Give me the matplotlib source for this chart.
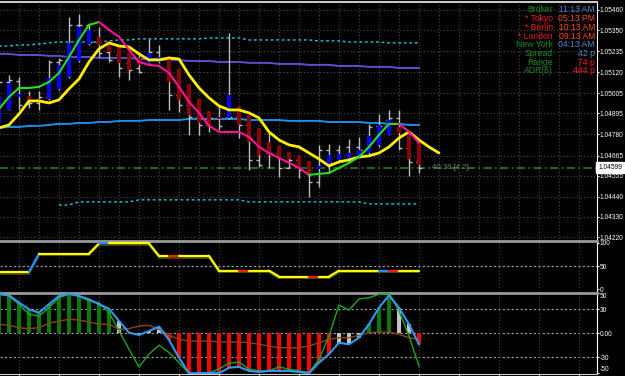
import matplotlib
matplotlib.use('Agg')
import matplotlib.pyplot as plt
import matplotlib.transforms as mtransforms
from matplotlib.collections import LineCollection
import numpy as np

# ---- price bars (oldest visible bar first) ----
bar_high = [1.05089, 1.05105, 1.05094, 1.05018, 1.05018, 1.05187, 1.05198, 1.05422, 1.05438, 1.05389,
            1.05367, 1.05285, 1.05258, 1.05225, 1.05214, 1.05302, 1.05269, 1.05198, 1.05138, 1.05056,
            1.04974, 1.04909, 1.04936, 1.05334, 1.04936, 1.04887, 1.04816, 1.04794, 1.04717, 1.04685,
            1.04668, 1.04635, 1.04723, 1.04728, 1.04723, 1.04756, 1.04767, 1.04838, 1.04892, 1.04914,
            1.04914, 1.04788, 1.04734]
bar_low = [1.04832, 1.04914, 1.04914, 1.04925, 1.04914, 1.04969, 1.05023, 1.05089, 1.05176, 1.05269,
           1.05203, 1.05176, 1.05094, 1.05078, 1.05116, 1.05171, 1.05171, 1.04914, 1.04903, 1.04778,
           1.04778, 1.04794, 1.04805, 1.04865, 1.04761, 1.04586, 1.04603, 1.04597, 1.04548, 1.04597,
           1.04543, 1.04439, 1.04494, 1.04570, 1.04630, 1.04630, 1.04657, 1.04668, 1.04712, 1.04778,
           1.04696, 1.04554, 1.04570]
bar_open = [1.04887, 1.05067, 1.05072, 1.04947, 1.04952, 1.04985, 1.05176, 1.05187, 1.05378, 1.05378,
            1.05285, 1.05231, 1.05214, 1.05171, 1.05143, 1.05198, 1.05231, 1.05198, 1.04996, 1.04941,
            1.04876, 1.04832, 1.04870, 1.04876, 1.04876, 1.04832, 1.04641, 1.04679, 1.04679, 1.04597,
            1.04641, 1.04570, 1.04521, 1.04696, 1.04696, 1.04712, 1.04712, 1.04707, 1.04827, 1.04859,
            1.04870, 1.04707, 1.04630]
bar_close = [1.05067, 1.05078, 1.04941, 1.04952, 1.04985, 1.05176, 1.05187, 1.05378, 1.05378, 1.05285,
             1.05225, 1.05187, 1.05143, 1.05132, 1.05121, 1.05231, 1.05198, 1.04996, 1.04941, 1.04876,
             1.04832, 1.04870, 1.04827, 1.04876, 1.04832, 1.04641, 1.04614, 1.04679, 1.04597, 1.04641,
             1.04586, 1.04521, 1.04696, 1.04625, 1.04641, 1.04646, 1.04696, 1.04821, 1.04827, 1.04870,
             1.04707, 1.04630, 1.04599]
# heiken ashi bodies
ha_open = [1.04843, 1.04914, 1.04985, 1.04990, 1.04974, 1.04974, 1.05029, 1.05094, 1.05181, 1.05274,
           1.05313, 1.05280, 1.05258, 1.05225, 1.05198, 1.05171, 1.05176, 1.05198, 1.05138, 1.05056,
           1.04974, 1.04909, 1.04876, 1.04870, 1.04936, 1.04887, 1.04816, 1.04739, 1.04717, 1.04685,
           1.04668, 1.04635, 1.04592, 1.04619, 1.04641, 1.04646, 1.04657, 1.04679, 1.04723, 1.04778,
           1.04821, 1.04788, 1.04734]
ha_close = [1.04990, 1.05061, 1.05001, 1.04969, 1.04963, 1.05089, 1.05160, 1.05280, 1.05367, 1.05351,
            1.05269, 1.05231, 1.05171, 1.05132, 1.05160, 1.05225, 1.05203, 1.05067, 1.04969, 1.04887,
            1.04843, 1.04821, 1.04865, 1.04996, 1.04832, 1.04739, 1.04668, 1.04668, 1.04646, 1.04646,
            1.04597, 1.04559, 1.04608, 1.04668, 1.04674, 1.04679, 1.04696, 1.04772, 1.04832, 1.04859,
            1.04788, 1.04646, 1.04614]

# ---- main window indicators ----
slow_ma = [1.04816, 1.04832, 1.04892, 1.04963, 1.04963, 1.04952, 1.04969, 1.05029, 1.05083, 1.05176,
           1.05247, 1.05280, 1.05263, 1.05258, 1.05220, 1.05187, 1.05187, 1.05198, 1.05192, 1.05105,
           1.05034, 1.04980, 1.04936, 1.04914, 1.04914, 1.04898, 1.04870, 1.04794, 1.04750, 1.04723,
           1.04712, 1.04679, 1.04646, 1.04608, 1.04630, 1.04641, 1.04657, 1.04663, 1.04679, 1.04712,
           1.04761, 1.04794, 1.04750, 1.04712, 1.04679]
fast_ma = [1.04919, 1.04985, 1.05034, 1.05034, 1.05040, 1.05067, 1.05116, 1.05203, 1.05296, 1.05378,
           1.05394, 1.05351, 1.05313, 1.05242, 1.05176, 1.05160, 1.05154, 1.05116, 1.05040, 1.04958,
           1.04898, 1.04827, 1.04794, 1.04794, 1.04794, 1.04767, 1.04712, 1.04679, 1.04652, 1.04625,
           1.04597, 1.04559, 1.04565, 1.04570, 1.04597, 1.04625, 1.04657, 1.04712, 1.04778, 1.04838,
           1.04838, 1.04794, 1.04734]
purple_ma = [1.05220, 1.05220, 1.05214, 1.05214, 1.05214, 1.05209, 1.05209, 1.05203, 1.05203, 1.05203,
             1.05198, 1.05198, 1.05198, 1.05198, 1.05192, 1.05192, 1.05192, 1.05187, 1.05187, 1.05181,
             1.05181, 1.05181, 1.05176, 1.05176, 1.05176, 1.05171, 1.05171, 1.05171, 1.05165, 1.05165,
             1.05165, 1.05160, 1.05160, 1.05160, 1.05154, 1.05154, 1.05154, 1.05149, 1.05149, 1.05149,
             1.05143, 1.05143, 1.05143]
blue_ma = [1.04816, 1.04821, 1.04821, 1.04827, 1.04827, 1.04832, 1.04838, 1.04838, 1.04843, 1.04843,
           1.04848, 1.04848, 1.04854, 1.04854, 1.04854, 1.04859, 1.04859, 1.04859, 1.04859, 1.04865,
           1.04865, 1.04865, 1.04865, 1.04865, 1.04865, 1.04859, 1.04859, 1.04859, 1.04859, 1.04854,
           1.04854, 1.04854, 1.04854, 1.04848, 1.04848, 1.04848, 1.04848, 1.04843, 1.04843, 1.04838,
           1.04838, 1.04832, 1.04832]
band_upper = [1.05263, 1.05263, 1.05269, 1.05269, 1.05274, 1.05280, 1.05285, 1.05285, 1.05285, 1.05285,
              1.05285, 1.05291, 1.05296, 1.05296, 1.05302, 1.05302, 1.05302, 1.05302, 1.05302, 1.05302,
              1.05302, 1.05307, 1.05307, 1.05307, 1.05307, 1.05296, 1.05296, 1.05296, 1.05296, 1.05296,
              1.05296, 1.05296, 1.05291, 1.05291, 1.05291, 1.05285, 1.05285, 1.05285, 1.05285, 1.05280,
              1.05280, 1.05280, 1.05280]
band_lower = [np.nan, np.nan, np.nan, np.nan, np.nan, np.nan, 1.04395, 1.04395, 1.04412, 1.04412,
              1.04412, 1.04412, 1.04412, 1.04412, 1.04423, 1.04423, 1.04423, 1.04423, 1.04423, 1.04423,
              1.04423, 1.04423, 1.04423, 1.04423, 1.04423, 1.04412, 1.04412, 1.04412, 1.04412, 1.04412,
              1.04412, 1.04412, 1.04412, 1.04412, 1.04412, 1.04412, 1.04412, 1.04401, 1.04401, 1.04401,
              1.04401, 1.04401, 1.04401]
bid = 1.04599
price_ticks = [1.05460, 1.05350, 1.05235, 1.05120, 1.05005, 1.04895, 1.04780, 1.04665,
               1.04555, 1.04440, 1.04330, 1.04220]

# ---- window 1: strength line, state per segment (u up, d down, f flat, r red flat) ----
strength = [37, 37, 37, 37, 77, 77, 77, 77, 77, 77,
            99, 99, 99, 99, 99, 99, 72, 72, 72, 72,
            72, 72, 40, 40, 40, 40, 40, 40, 27, 27,
            27, 27, 27, 27, 40, 40, 40, 40, 40, 40,
            40, 40, 40]
strength_state = 'fffuffffffuffffffdffffffdffffffdffffffurfff'

# ---- window 2: oscillator ----
osc_main = [48.8, 47.5, 38.3, 30.0, 25.8, 36.3, 46.6, 49.5, 46.6, 42.5,
            36.3, 30.8, 15.4, 0.8, -2.1, 2.9, 8.3, -8.4, -30.5, -50.0,
            -50.0, -49.6, -50.0, -43.0, -42.0, -47.0, -48.4, -47.0, -47.0, -47.0,
            -48.4, -50.0, -36.8, -26.0, -11.8, -13.8, -5.5, 11.3, 32.0, 47.5,
            32.0, 11.3, -13.8]
osc_state = 'ggggggggggggwwwwwrrrrrrrrrrrrrrrrrwwwgggwwr'
osc_fast = [50.0, 46.6, 36.3, 23.8, 21.6, 32.0, 44.5, 48.8, 46.6, 40.4,
            38.3, 25.8, 2.9, -20.0, -42.0, -26.0, -15.0, -24.0, -36.8, -50.0,
            -49.6, -49.6, -44.6, -37.5, -35.9, -45.0, -47.0, -47.0, -42.0, -45.0,
            -47.0, -49.0, -32.5, -3.4, 35.4, 29.0, 43.0, 44.5, 48.8, 50.0,
            28.0, -3.4, -41.0]
osc_signal = [11.3, 10.0, 7.0, 5.8, 7.0, 12.5, 15.4, 17.5, 16.6, 14.1,
              11.3, 11.3, 5.0, 5.8, 9.1, 10.0, 5.0, -2.5, -7.5, -9.6,
              -9.6, -9.6, -10.9, -10.9, -10.9, -11.8, -13.8, -15.9, -18.0, -18.0,
              -18.0, -15.9, -11.8, -7.5, -5.5, -5.5, -2.5, 0.8, 1.6, 1.6,
              -1.3, -5.5, -7.5]

info_labels = ['Broker', '* Tokyo', '* Berlin', '* London', 'New York', 'Spread', 'Range', 'ADR(6)']
info_values = ['11:13 AM', '05:13 PM', '10:13 AM', '09:13 AM', '04:13 AM', '42 p', '74 p', '444 p']
info_label_colors = ['#1c8c1c', '#f01c1c', '#f01c1c', '#f01c1c', '#1c8c1c', '#1c8c1c', '#1c8c1c', '#1c8c1c']
info_value_colors = ['#4a86c8', '#ff4a1a', '#ff4a1a', '#ff4a1a', '#4a86c8', '#4a86c8', '#ff1a1a', '#ff1a1a']

W, H = 625, 376
FONT = ['Liberation Sans', 'DejaVu Sans']
AXIS_FS = 4.8


def rect(x0, y0, x1, y1):
    return [x0 / W, 1 - y1 / H, (x1 - x0) / W, (y1 - y0) / H]


def style_axes(ax, ticks, labels):
    ax.set_facecolor('black')
    for s in ax.spines.values():
        s.set_visible(False)
    ax.spines['right'].set_visible(True)
    ax.spines['right'].set_color('white')
    ax.yaxis.tick_right()
    ax.set_yticks(ticks)
    ax.set_yticklabels(labels, fontfamily=FONT, fontsize=AXIS_FS, color='white')
    ax.tick_params(axis='y', colors='white', length=1.5, width=0.8, pad=0.6, labelcolor='white')
    ax.set_xlim(0.1, 59.8)


def color_segments(ax, xs, ys, colors, lw, z=5, transform=None):
    pts = np.column_stack([xs, ys])
    segs = np.stack([pts[:-1], pts[1:]], axis=1)
    lc = LineCollection(segs, colors=colors, linewidths=lw, zorder=z, capstyle='round')
    if transform is not None:
        lc.set_transform(transform)
    ax.add_collection(lc)


fig = plt.figure(figsize=(W / 100, H / 100), dpi=100, facecolor='black')
ax = fig.add_axes(rect(0, 1.5, 597, 238.5))
ax1 = fig.add_axes(rect(0, 240.5, 597, 291))
ax2 = fig.add_axes(rect(0, 293, 597, 374))

idx = np.arange(len(bar_high))

# ---------------- main window ----------------
style_axes(ax, price_ticks, ['%.5f' % p for p in price_ticks])
ax.set_ylim(1.04212, 1.05506)
ax.set_xticks([])
ax.spines['top'].set_visible(True)
ax.spines['top'].set_color('#c8c8c8')
ax.spines['top'].set_linewidth(1.5)
for p in price_ticks:
    ax.axhline(p, color='#4a4a4a', lw=0.8, ls=(0, (1, 2)), zorder=0)
for g in np.arange(2, 60, 2):
    ax.axvline(g, color='#4a4a4a', lw=0.8, ls=(0, (1, 2)), zorder=0)

ax.plot(idx, band_upper, color='#20c8d8', lw=1, ls=(0, (2, 2)), zorder=2)
ax.plot(idx, band_lower, color='#20c8d8', lw=1, ls=(0, (2, 2)), zorder=2)
ax.plot(idx, purple_ma, color='#5c50d0', lw=1.4, zorder=2)
ax.plot(idx, blue_ma, color='#1e8ee8', lw=1.4, zorder=2)
ax.axhline(bid, color='#2a7a2a', lw=1.2, ls=(0, (5, 2, 1, 2)), zorder=1)

ax.vlines(idx, bar_low, bar_high, color='#bdbdbd', lw=1, zorder=3)
ax.hlines(bar_open, idx - 0.32, idx, color='#bdbdbd', lw=1, zorder=3)
ax.hlines(bar_close, idx, idx + 0.32, color='#bdbdbd', lw=1, zorder=3)
ha_o = np.array(ha_open)
ha_c = np.array(ha_close)
body_col = np.where(ha_c >= ha_o, '#0000ff', '#8b0000')
ax.bar(idx, ha_c - ha_o, bottom=ha_o, width=0.34, color=body_col, zorder=4)

ax.plot(np.arange(len(slow_ma)), slow_ma, color='#ffee00', lw=2.0, zorder=6, solid_capstyle='round')
fast = np.array(fast_ma)
cols = []
prev = '#22e022'
for a, b in zip(fast[:-1], fast[1:]):
    if b > a:
        prev = '#22e022'
    elif b < a:
        prev = '#ff1493'
    cols.append(prev)
color_segments(ax, idx, fast, cols, 1.5, z=7)

ax.text(43.3, bid, '40:38 [4:2]', color='#7a7a7a', fontsize=5.6, fontfamily=FONT,
        va='center', ha='left', zorder=8)
ax.text(1.002, bid, '%.5f' % bid, transform=mtransforms.blended_transform_factory(ax.transAxes, ax.transData),
        color='black', fontsize=AXIS_FS, fontfamily=FONT, va='center', ha='left', zorder=9,
        bbox=dict(boxstyle='square,pad=0.3', fc='white', ec='white'), clip_on=False)

for k, (lab, val) in enumerate(zip(info_labels, info_values)):
    yy = 1 - (10 + 8.67 * k) / H
    fig.text(553 / W, yy, lab, color=info_label_colors[k], fontsize=6.2, fontfamily=FONT,
             ha='right', va='center')
    fig.text(595 / W, yy, val, color=info_value_colors[k], fontsize=6.2, fontfamily=FONT,
             ha='right', va='center')

# ---------------- window 1 ----------------
style_axes(ax1, [100, 50, 0], ['100', '50', '0'])
ax1.set_ylim(-4.3, 105.4)
ax1.set_xticks([])
ax1.spines['top'].set_visible(True)
ax1.spines['top'].set_color('#9a9a9a')
ax1.spines['top'].set_linewidth(2)
ax1.axhline(50, color='#a0a0a0', lw=0.8, ls=(0, (2, 2)), zorder=0)
for g in np.arange(2, 60, 4):
    ax1.axvline(g, color='#4a4a4a', lw=0.8, ls=(0, (1, 2)), zorder=0)
state_colors = {'u': '#1e90ff', 'd': '#ff1a1a', 'f': '#ffff00', 'r': '#ff1a1a'}
seg_cols = [state_colors[c] for c in strength_state]
shadow = ax1.transData + mtransforms.ScaledTranslation(0, -0.018, fig.dpi_scale_trans)
color_segments(ax1, idx, strength, ['#50500a'] * len(seg_cols), 1.2, z=4, transform=shadow)
color_segments(ax1, idx, strength, seg_cols, 1.6, z=5)

# ---------------- window 2 ----------------
style_axes(ax2, [50, 30, 0, -30, -50], ['', '30', '0.00', '-30', ''])
ax2.set_ylim(-50.9, 50.4)
edge = mtransforms.blended_transform_factory(ax2.transAxes, ax2.transData)
ax2.text(1.0045, 50, '50', transform=edge, color='white', fontsize=AXIS_FS, fontfamily=FONT,
         va='top', ha='left', clip_on=False)
ax2.text(1.0045, -50, '-50', transform=edge, color='white', fontsize=AXIS_FS, fontfamily=FONT,
         va='bottom', ha='left', clip_on=False)
ax2.spines['top'].set_visible(True)
ax2.spines['top'].set_color('#9a9a9a')
ax2.spines['top'].set_linewidth(2)
ax2.spines['bottom'].set_visible(True)
ax2.spines['bottom'].set_color('#d0d0d0')
ax2.set_xticks(np.arange(2, 60, 4))
ax2.tick_params(axis='x', colors='#d0d0d0', length=2, labelbottom=False)
for lvl in [30, 0, -30]:
    ax2.axhline(lvl, color='#a0a0a0', lw=0.8, ls=(0, (2, 2)), zorder=0)
for g in np.arange(2, 60, 4):
    ax2.axvline(g, color='#4a4a4a', lw=0.8, ls=(0, (1, 2)), zorder=0)
hist_colors = {'g': '#0b7a0b', 'w': '#c4c4c4', 'r': '#ff0000'}
ax2.bar(idx, osc_main, width=0.32, color=[hist_colors[c] for c in osc_state], zorder=2)
ax2.plot(idx, osc_signal, color='#8b4513', lw=1, zorder=3)
ax2.plot(idx, osc_fast, color='#1fa51f', lw=1, zorder=4)
ax2.plot(idx, osc_main, color='#2e9af0', lw=1.5, zorder=5)

fig.savefig('out.png', dpi=100, facecolor='black')
